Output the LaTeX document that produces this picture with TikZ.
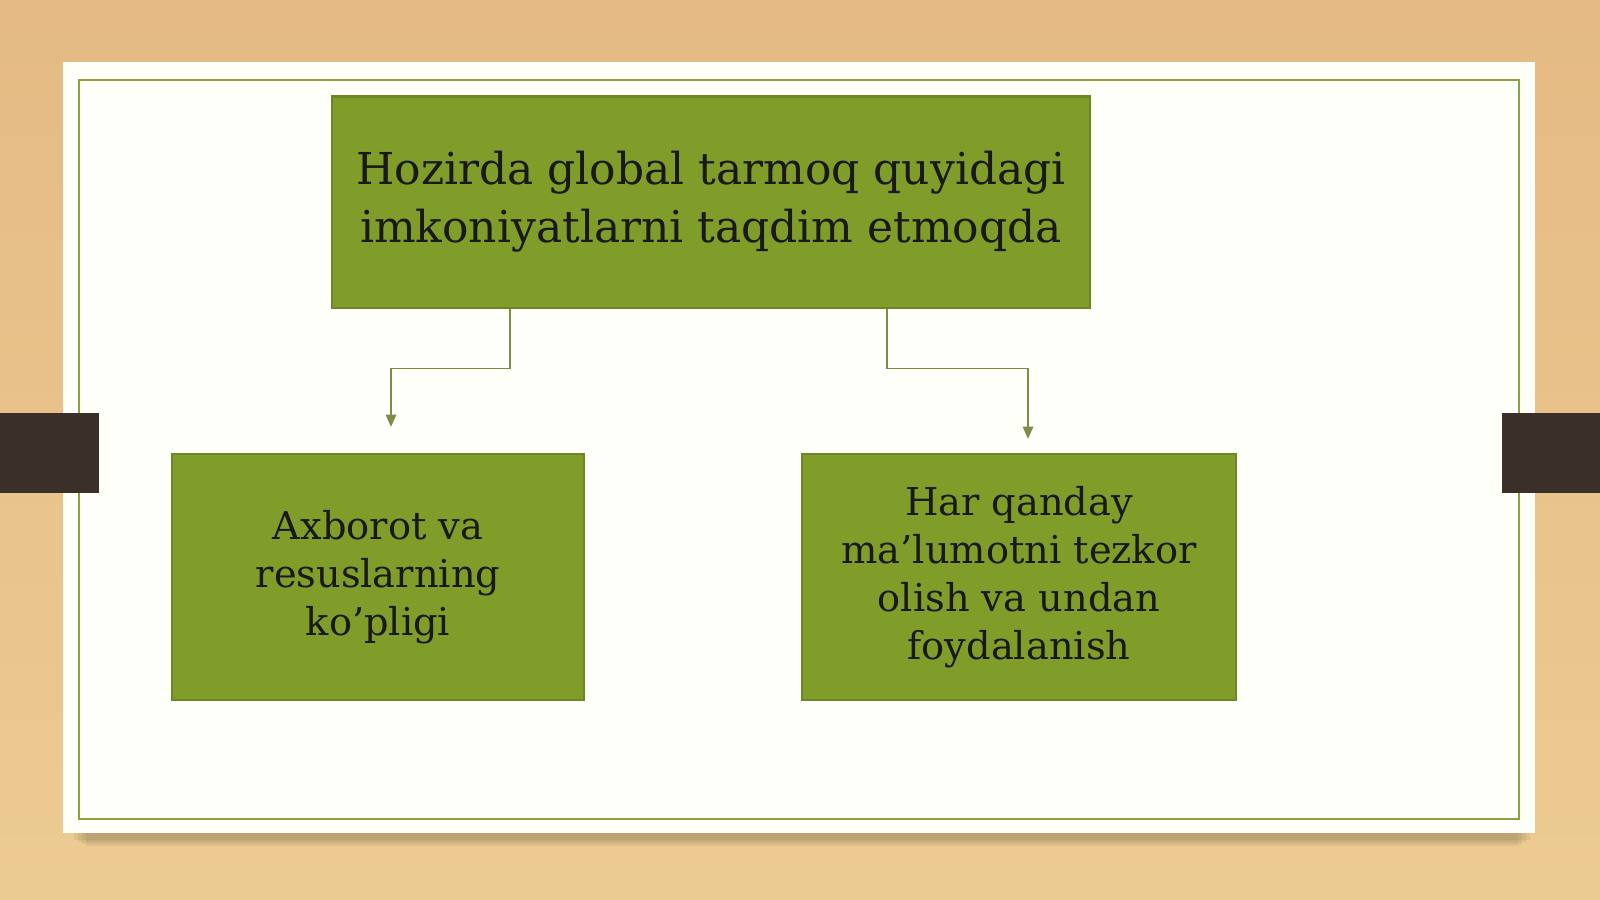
\documentclass[tikz,border=0pt]{standalone}
\usepackage{fontspec}
\setmainfont{DejaVu Serif}
\usetikzlibrary{arrows.meta}
\definecolor{wood}{RGB}{229,186,132}
\definecolor{woodlight}{RGB}{236,203,146}
\definecolor{olive}{RGB}{128,157,42}
\definecolor{olivedark}{RGB}{110,134,38}
\definecolor{frame}{RGB}{138,163,58}
\definecolor{linkcol}{RGB}{128,140,70}
\definecolor{tab}{RGB}{59,48,41}
\begin{document}
\begin{tikzpicture}[x=0.01cm, y=-0.01cm,
	box/.style={draw=olivedark, line width=0.6pt, fill=olive, align=center, inner sep=0pt, text=black!90},
	link/.style={draw=linkcol, line width=0.4pt, -{Triangle[width=3pt, length=3.5pt]}}]
	% background and slide card
	\shade[top color=wood, bottom color=woodlight] (0,0) rectangle (1600,899);
	\foreach \d in {4,8,12,16}
		\fill[black, opacity=0.05] (70+\d,826) rectangle (1534-\d,838+\d/2);
	\fill[white!98!yellow] (63,62) rectangle (1535,833);
	\draw[frame, line width=0.6pt] (79,80) rectangle (1519,819);
	\fill[tab] (0,413) rectangle (99,493);
	\fill[tab] (1502,413) rectangle (1600,493);
	% boxes
	\node[box, minimum width=7.58cm, minimum height=2.11cm, font=\fontsize{12.5}{16.5}\selectfont] (top) at (711,202) {Hozirda global tarmoq quyidagi\\imkoniyatlarni taqdim etmoqda};
	\node[box, minimum width=4.11cm, minimum height=2.46cm, font=\fontsize{10.9}{13.6}\selectfont] (left) at (378,577) {Axborot va\\resuslarning\\ko’pligi};
	\node[box, minimum width=4.33cm, minimum height=2.46cm, font=\fontsize{10.9}{13.6}\selectfont] (right) at (1019,577) {Har qanday\\ma’lumotni tezkor\\olish va undan\\foydalanish};
	% connectors
	\coordinate (ls) at ([xshift=-2.01cm]top.south);
	\coordinate (rs) at ([xshift=1.76cm]top.south);
	\coordinate (lt) at ([yshift=0.26cm]left.north -| 391,0);
	\coordinate (rt) at ([yshift=0.14cm]right.north -| 1028,0);
	\draw[link] (ls) -- ++(0,60) -| (lt);
	\draw[link] (rs) -- ++(0,60) -| (rt);
\end{tikzpicture}
\end{document}
